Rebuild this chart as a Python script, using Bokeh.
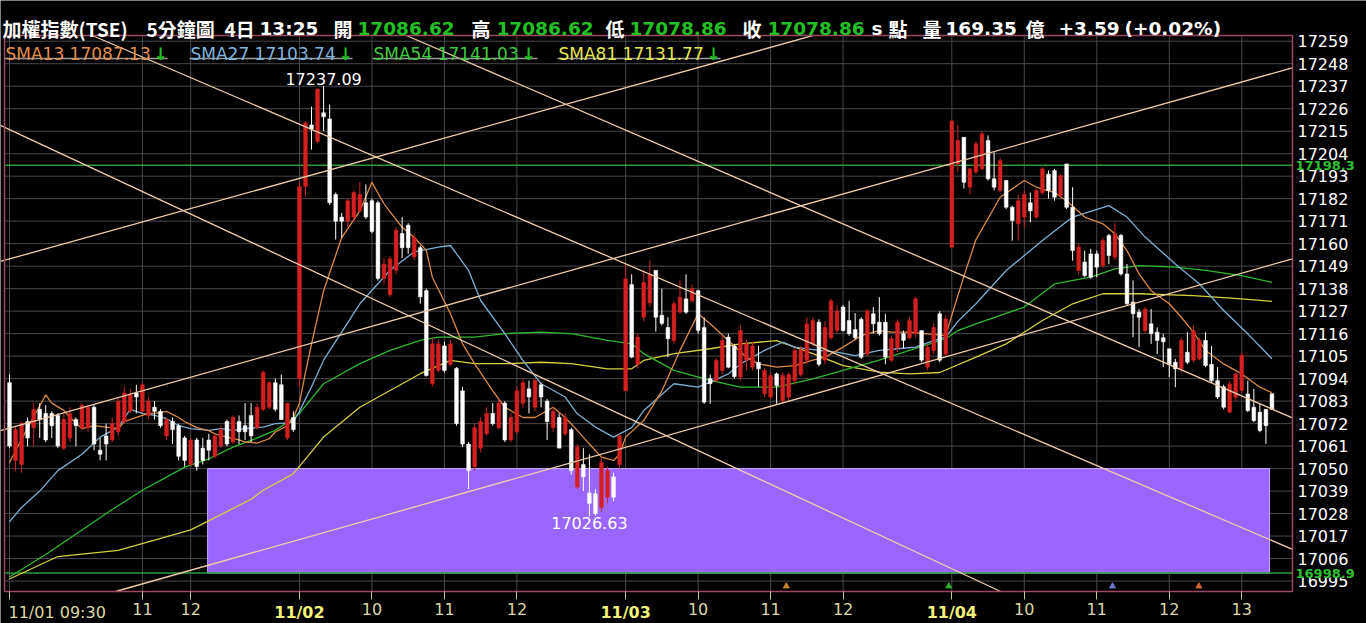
from bokeh.plotting import figure
from bokeh.models import ColumnDataSource, Range1d, FixedTicker, Label, LinearAxis
from bokeh.core.properties import value
from bokeh.embed import file_html
from bokeh.resources import INLINE

# ---------------- data (5-minute bars, 11/01 09:30 .. 11/04 13:25) ----------------
opens = [17092,17054,17052,17073,17070,17079,17077,17077,17076,17060,17065,17074,17070,17070,17080,17059,17066,17064,17068,17073,
         17078,17087,17078,17076,17080,17078,17066,17073,17071,17065,17052,17064,17060,17064,17056,17061,17073,17063,17073,17071,
         17076,17070,17079,17080,17092,17091,17065,17075,
         17094,17188,17218,17210,17224,17221,17184,17173,17171,17173,17176,17180,17181,17180,17143,17135,17147,17165,17169,17153.5,
         17158,17137,17091.5,17098,17110,17101,17099,17088,17062,17051,17060,17067,17077,17070,17082,17064,17068,17082,17089,17080,
         17091,17083,17070,17075,17067,17069,17041,17052,17038,17037.7,17031,17036,17046,17052,
         17088,17140,17101,17124,17131,17146.9,17125,17119,17112.6,17126.5,17133,17132,17137,17119,17094,17093,17098,17114.3,17110,17094.7,
         17103,17099.6,17102,17086.6,17085,17096.3,17083.3,17085,17093,17096,17103,17111,17121.6,17103,17114,17117.5,17129,17122.4,17118,17123,
         17106,17125.7,17121.6,17121.6,17103,17109,17116,17114,17116,17117.5,17099.6,17107.8,17125.7,17106,
         17158.3,17199,17212,17187.6,17195,17196.6,17210.4,17191.7,17186,17190.9,17177.8,17169.7,17173,17180,17173,17185,17194,17195.8,17183.5,17199,
         17177.8,17146.9,17151,17155,17155,17149.3,17164,17153.4,17164,17145.2,17131.4,17126.5,17117.5,17120.8,17116.7,17114,17108.6,17102,17098.8,17106.9,
         17103,17103.7,17112.7,17101,17093,17090,17077.6,17084.9,17088.2,17086.5,17080,17077.6,17079,17086.62]
highs = [17096,17071,17073,17075,17082,17082,17081,17078,17077,17077,17080,17075,17082,17081,17081,17065,17072,17075,17085,17090,
         17089,17091,17092,17085,17083,17079,17075,17075,17072,17066,17065,17065,17065,17067,17067,17071,17074,17076,17076,17082,
         17082,17082,17098,17093,17094,17096,17082,17078,
         17190,17220,17227,17236,17237.09,17228,17185,17175,17182,17186,17190,17189,17182,17181,17153,17154,17168,17173,17170,17165,
         17159,17138,17114,17113,17112,17113,17099.6,17090,17063,17072,17075,17080,17082,17084,17083,17077,17090,17094,17093,17094,
         17092,17084,17080,17077,17077,17070,17062,17060,17057,17040,17055,17051,17048,17067,
         17150,17145,17116,17147,17151.8,17147,17138,17124,17132,17142,17145,17140,17137.5,17124,17096,17104,17115,17116,17111,17120,
         17113,17112,17110,17099,17097,17097,17097,17097,17109,17110,17124,17124,17123,17122,17133,17130,17130,17132,17126,17124,
         17128,17129,17133.8,17125.7,17115,17123,17117.5,17124,17134,17117.5,17111,17121,17127,17125,
         17220.5,17218,17212,17197,17210,17215,17212.9,17204.7,17202,17191,17178.6,17184,17186,17185,17187,17197.4,17195.8,17196.6,17194,17199,
         17187.6,17160,17156.6,17157.5,17156.6,17163,17164.8,17170,17164.8,17150,17142,17128,17129,17128,17119,17116,17108.6,17103.7,17114,17116.7,
         17120,17114,17116.7,17110,17099.6,17091,17093,17097,17106.9,17093,17089,17081.7,17079,17086.62]
lows = [17060,17049,17048,17061,17061,17065,17063,17065,17060,17059,17063,17061,17069,17068,17059,17054,17054,17063,17066,17072,
        17077,17077,17077,17074,17074,17070,17064,17062,17054,17051,17051,17049,17052,17054,17055,17060,17061,17062,17062,17064,
        17063,17069,17078,17079,17078,17074,17064,17068,
        17090,17183,17206,17209,17215,17179,17162,17163,17168,17171,17175,17172,17165,17142,17140,17134,17145,17153,17155,17152,
        17130.6,17095,17090,17097,17097,17100,17071,17060.5,17040,17049,17058,17066,17071,17069,17063,17063,17067,17080,17077,17078,
        17080,17064,17068,17060,17066,17047,17040,17039,17026.63,17027,17029,17033,17034,17050,
        17088,17104,17099,17122,17129,17117,17120,17104.5,17111,17125.7,17125.7,17131,17116,17081.7,17081.7,17092,17096,17099,17094,17093,
        17098,17098,17090,17085,17084,17081.7,17082,17083,17091,17095,17101,17110,17100,17101,17113,17116,17117,17115,17113,17103.6,
        17105,17116,17115,17101,17102,17107,17109,17113,17114,17102,17098,17106,17102,17105,
        17158,17195,17187,17184,17194,17196,17190.9,17186,17185,17177,17161.5,17161.5,17168,17170.5,17172,17184,17182,17181,17182,17177,
        17151.7,17145,17143.6,17142.8,17143.6,17148,17150,17152,17144.4,17129.8,17114.3,17109.4,17116,17111,17106,17099.6,17094.7,17089.8,17097,17101,
        17102,17103,17099.6,17092,17084,17079,17077,17083,17087,17077.6,17072.7,17067.8,17062.1,17078.86]
closes = [17061,17069,17072,17065,17079,17074,17064,17071,17061,17074,17077,17071,17081,17080,17062,17057,17062,17072,17083,17087,
          17086,17085,17091,17083,17078,17071,17074,17069,17056,17054,17064,17051,17054,17059,17066,17069,17062,17075,17068,17068,
          17066,17080,17097,17092,17079,17074,17082,17069,
          17188,17219,17216,17235.5,17222,17180,17171,17171,17181,17185,17184,17173,17166,17143,17150,17152.6,17166.5,17158,17158,17163,
          17134,17095.5,17111,17111,17098,17111,17072,17062,17049,17070,17073,17077,17072,17082,17064,17075,17088,17092,17085,17093,
          17085,17073,17078,17060,17075,17049,17060.5,17046,17033,17028,17053,17049,17036,17066,
          17142.8,17104.5,17114.3,17141,17145,17124,17121,17113.5,17130.6,17133.8,17126.5,17138,17117.6,17082.5,17091.5,17102.9,17112.7,17099.6,17095,17117.5,
          17111,17110,17098.8,17098,17095.5,17090.6,17095.5,17096,17107.8,17108,17120.8,17122.4,17101,17119,17132,17127,17117.5,17116,17114,17104.5,
          17127,17120.8,17116,17104.5,17113.5,17121.6,17112.7,17122.4,17133,17103,17109.4,17119,17103,17123.2,
          17220,17210.5,17190,17196.6,17208.8,17213.7,17191.7,17187.6,17200.7,17177.8,17171.3,17181,17184,17176,17186,17196.6,17186,17182.7,17193.3,17177.8,
          17156.6,17158.3,17144.4,17143.6,17148.5,17161.5,17154.2,17164.8,17145.2,17130.6,17125.7,17124,17128,17116,17112.7,17112,17101,17098.8,17112.7,17102,
          17117.5,17112.7,17100.4,17093,17085,17080,17091.4,17096.3,17105.3,17078.4,17073.5,17068.6,17071,17078.86]

# moving averages at bar indices
sma13_x = [0,3,6,7,9,10,12,14,16,18,19,21,23,24,26,28,29,31,33,34,36,38,39,41,43,44,46,47,48,49,50,51,52,55,58,60,62,65,67,69,70,73,75,77,80,82,85,87,90,92,94,96,98,100,101,102,105,108,111,114,116,119,122,124,127,130,133,135,138,141,144,146,149,152,155,156,158,160,164,168,170,173,175,178,181,183,185,187,189,192,194,196,198,201,204,207,209]
sma13_y = [17053,17070,17086,17082,17078.5,17075,17069.5,17071,17070.3,17069.5,17073,17075,17077,17077,17078,17075,17073,17070,17068.6,17067,17065.4,17064,17063,17062.5,17064.6,17067.9,17071,17075,17082,17097,17111,17124,17137,17163,17176,17190,17179.5,17168,17163,17156.7,17143.6,17125.7,17111,17101.3,17088,17080,17075,17075,17080,17075,17068.7,17062,17055.6,17054,17057,17065.4,17073.5,17088,17107.8,17125.7,17120.8,17112.6,17104.5,17101.2,17099.6,17100.4,17103,17104.5,17109.4,17115,17117.5,17116.7,17116.7,17115.9,17115,17125,17144,17162,17182.7,17190.9,17187.6,17185,17181,17173,17169.7,17164.8,17156.6,17145.2,17137,17130.6,17124,17116.7,17107.8,17101.2,17096.3,17089.8,17087.13]
sma27_x = [0,2,5,8,12,15,18,20,22,24,26,28,30,33,35,37,39,42,44,46,47,48,50,52,58,63,67,71,73,76,78,82,85,88,92,94,97,100,103,105,110,114,116,119,121,125,128,130,134,137,140,144,147,150,153,155,157,160,165,171,176,182,185,188,193,197,201,205,209]
sma27_y = [17024,17031,17039,17049,17057,17065.4,17070.3,17079,17077,17076,17074.4,17071,17069.5,17068.7,17069.5,17068.7,17069.5,17070.3,17072,17072.3,17073,17078,17090,17103,17130.6,17147,17156,17158.3,17159.1,17146.9,17132.2,17116,17102.9,17091.5,17085,17076.8,17070.3,17065.4,17070,17078.4,17091.5,17089.8,17092.3,17096.3,17101.2,17107.8,17111.8,17109.4,17107.8,17107,17105.3,17107.8,17108.6,17109.4,17112.6,17114.3,17122,17130.6,17146.9,17161.5,17173,17178.6,17173,17163.2,17150.1,17140.3,17127.3,17115.9,17103.74]
sma54_x = [0,6,12,17,22,26,29,33,37,40,44,46,48,52,58,63,68,71,77,82,88,93,99,103,105,110,116,121,127,133,138,144,149,155,157,160,168,173,179,183,187,193,198,204,209]
sma54_y = [16997,17008,17020,17030,17039.4,17045.8,17050.7,17054.8,17060.5,17063.8,17068.7,17072.7,17077,17091.5,17101.3,17107.8,17112.7,17114.3,17114.3,17116,17116.7,17116,17112.7,17111,17106.2,17098,17093.1,17089.8,17089.8,17093.9,17098,17103,17107.8,17113.5,17117.5,17120.8,17129,17140.3,17143.6,17147.7,17149.3,17148.5,17146.9,17144.4,17141.03]
sma81_x = [0,8,18,30,40,42,46,47,52,58,63,68,73,77,82,88,93,99,103,105,110,116,121,127,133,138,144,149,154,160,165,171,176,181,187,196,204,209]
sma81_y = [16996,17007,17010,17020,17035,17039.4,17045.8,17047.5,17065.4,17080,17088.2,17096.4,17102.9,17101.3,17101.3,17102,17101.3,17098.8,17098.8,17102.9,17106.2,17108.6,17111,17112.6,17106.2,17100.4,17097.2,17096.3,17097,17104.5,17111,17122.4,17130.6,17135.5,17135.5,17134.6,17133,17131.77]

# hand-drawn trend lines (bar index, price) -> (bar index, price)
trend_x0 = [13.7, -1.5, 17.55, -1.5, -1.5, 65.7]
trend_y0 = [17261.8, 17217.8, 16989.9, 17151.3, 17068.6, 17261.8]
trend_x1 = [212.4, 164.1, 212.4, 133.1, 212.4, 212.4]
trend_y1 = [17010.5, 16989.9, 17152.6, 17261.8, 17246.0, 17074.8]

# shaded zone and level lines
zone_left, zone_right, zone_bottom, zone_top = [32.8], [208.6], [16998.9], [17050.0]
level_lines = [17198.3, 16998.9]

# signal markers at the bottom
sig_x = [128.6, 155.5, 182.6, 196.9]
sig_y = [16992.5, 16992.5, 16992.5, 16992.5]
sig_c = ["#C8862E", "#2FB02F", "#6A78D0", "#D0642E"]

y_ticks = [16995 + 11 * k for k in range(25)]
x_ticks = [0, 22, 30, 48, 60, 72, 84, 102, 114, 126, 138, 156, 168, 180, 192, 204]
x_tick_text = ["", "11", "12", "", "10", "11", "12", "", "10", "11", "12", "", "10", "11", "12", "13"]
day_ticks = [0, 48, 102, 156]
day_text = ["11/01 09:30", "11/02", "11/03", "11/04"]

# ---------------- layout ----------------
W, H = 1366, 623
FL, FR, FT, FB = 4, 1292, 35, 591          # chart box in canvas pixels
X_LO, X_HI = -0.828, 212.4                 # bar index at box left / right
Y_HI, Y_LO = 17261.79, 16989.9             # price at box top / bottom


def dx(px):
    return X_LO + (px - FL) * (X_HI - X_LO) / (FR - FL)


def dy(py):
    return Y_HI - (py - FT) * (Y_HI - Y_LO) / (FB - FT)


p = figure(width=W, height=H, title=None,
           x_range=Range1d(dx(0), dx(W)), y_range=Range1d(dy(H), dy(0)),
           x_axis_location=None, y_axis_location=None,
           output_backend="svg", toolbar_location=None,
           min_border_left=0, min_border_right=0, min_border_top=0, min_border_bottom=0,
           background_fill_color="black", border_fill_color="black")
p.outline_line_color = None
p.xgrid.visible = False
p.ygrid.visible = False

GRID = "#484848"
# grid inside the chart box
p.segment(x0=[X_LO] * len(y_ticks), y0=y_ticks, x1=[X_HI] * len(y_ticks), y1=y_ticks, line_color=GRID, line_width=1)
p.segment(x0=x_ticks, y0=[Y_LO] * len(x_ticks), x1=x_ticks, y1=[Y_HI] * len(x_ticks), line_color=GRID, line_width=1)

# price axis on the right edge of the box
yax = LinearAxis(fixed_location=X_HI, ticker=FixedTicker(ticks=y_ticks))
yax.major_label_overrides = {t: str(t) for t in y_ticks}
yax.axis_line_color = None
yax.major_tick_line_color = None
yax.minor_tick_line_color = None
yax.major_tick_out = 0
yax.major_tick_in = 0
yax.major_label_standoff = 5
yax.major_label_text_color = "white"
yax.major_label_text_font = "DejaVu Sans"
yax.major_label_text_font_size = "16px"
p.add_layout(yax, "right")

# time axis on the bottom edge of the box
xax = LinearAxis(fixed_location=Y_LO, ticker=FixedTicker(ticks=x_ticks))
xax.major_label_overrides = {t: s for t, s in zip(x_ticks, x_tick_text)}
xax.axis_line_color = None
xax.minor_tick_line_color = None
xax.major_tick_line_color = "#C8C890"
xax.major_tick_out = 8
xax.major_tick_in = 0
xax.major_label_standoff = 3
xax.major_label_text_color = "#D8D8A0"
xax.major_label_text_font = "DejaVu Sans"
xax.major_label_text_font_size = "16px"
p.add_layout(xax, "below")

# shaded zone
p.quad(left=zone_left, right=zone_right, bottom=zone_bottom, top=zone_top,
       fill_color="#9966FF", line_color="#C8AAFF", line_width=1)

# level lines
p.segment(x0=[X_LO] * len(level_lines), y0=level_lines, x1=[X_HI] * len(level_lines), y1=level_lines,
          line_color="#2E9A3A", line_width=1.5)

# moving averages
p.line(sma81_x, sma81_y, line_color="#D6D040", line_width=1.3)
p.line(sma54_x, sma54_y, line_color="#2DB82D", line_width=1.3)
p.line(sma27_x, sma27_y, line_color="#7AAFD4", line_width=1.3)
p.line(sma13_x, sma13_y, line_color="#D98A45", line_width=1.3)

# candles (red = up, white = down)
idx = list(range(len(closes)))
colors = ["#D42020" if c >= o else "#FFFFFF" for o, c in zip(opens, closes)]
src = ColumnDataSource(dict(x=idx, h=highs, l=lows, col=colors,
                            top=[max(o, c) for o, c in zip(opens, closes)],
                            bot=[min(o, c) for o, c in zip(opens, closes)]))
p.segment(x0="x", y0="l", x1="x", y1="h", line_color="col", line_width=1, source=src)
p.vbar(x="x", width=0.62, top="top", bottom="bot", fill_color="col", line_color="col", line_width=0.5, source=src)

# trend lines
p.segment(x0=trend_x0, y0=trend_y0, x1=trend_x1, y1=trend_y1, line_color="#EFCDAA", line_width=1.3)

# signal markers
p.scatter(sig_x, sig_y, marker="triangle", size=6, fill_color=sig_c, line_color=sig_c)

# extreme labels
hi_i = max(idx, key=lambda i: highs[i])
lo_i = min(idx, key=lambda i: lows[i])
p.text(x=[hi_i], y=[highs[hi_i]], text=[f"{highs[hi_i]:.2f}"], text_align="center", text_baseline="bottom",
       y_offset=-1, text_color="white", text_font=value("DejaVu Sans"), text_font_size="16px")
p.text(x=[lo_i], y=[lows[lo_i]], text=[f"{lows[lo_i]:.2f}"], text_align="center", text_baseline="top",
       y_offset=1, text_color="white", text_font=value("DejaVu Sans"), text_font_size="16px")

# chart box border
p.quad(left=[X_LO], right=[X_HI], bottom=[Y_LO], top=[Y_HI], fill_color=None, line_color="#9B4A60", line_width=1.5)

# level labels on the price axis
for lv in level_lines:
    p.add_layout(Label(x=X_HI, y=lv, x_offset=3, text=f"{lv:.1f}", text_baseline="middle",
                       text_color="#2FC02F", text_font="DejaVu Sans", text_font_size="13px",
                       text_font_style="bold", background_fill_color="black"))

# day labels on the time axis
for t, s in zip(day_ticks, day_text):
    first = t == day_ticks[0]
    p.add_layout(Label(x=t, y=dy(602), text=s, text_baseline="top",
                       text_align="left" if first else "center", x_offset=-1 if first else 0,
                       text_color="#D8D8A0" if first else "#F2F27A",
                       text_font="DejaVu Sans", text_font_size="16px",
                       text_font_style="normal" if first else "bold"))

# header
GREEN = "#22C022"
header = [("加權指數(TSE)", 2, "cjk", "white"), ("5分鐘圖", 146, "cjk", "white"), ("4日", 224, "cjk", "white"),
          ("13:25", 259, "num", "white"), ("開", 333, "cjk", "white"), (f"{opens[-1]:.2f}", 357, "num", GREEN),
          ("高", 471, "cjk", "white"), (f"{highs[-1]:.2f}", 496, "num", GREEN), ("低", 605, "cjk", "white"),
          (f"{lows[-1]:.2f}", 629, "num", GREEN), ("收", 742, "cjk", "white"), (f"{closes[-1]:.2f}", 767, "num", GREEN),
          ("s", 871, "num", "white"), ("點", 888, "cjk", "white"), ("量", 922, "cjk", "white"),
          ("169.35", 945, "num", "white"), ("億", 1025, "cjk", "white"), ("+3.59", 1058, "num", "white"),
          ("(+0.02%)", 1124, "num", "white")]
for txt, px, kind, col in header:
    if kind == "cjk":
        p.add_layout(Label(x=dx(px), y=dy(28), text=txt, text_baseline="alphabetic", text_color=col,
                           text_font="Noto Sans CJK TC", text_font_size="19px", text_font_style="bold"))
    else:
        p.add_layout(Label(x=dx(px), y=dy(28), text=txt, text_baseline="alphabetic", text_color=col,
                           text_font="DejaVu Sans", text_font_size="18.5px", text_font_style="bold"))

# legend
legend = [("SMA13", sma13_y[-1], 5, 153, 167, "#E0904C"), ("SMA27", sma27_y[-1], 190, 338, 352, "#7DB5DD"),
          ("SMA54", sma54_y[-1], 373, 521, 537, "#3CCB3C"), ("SMA81", sma81_y[-1], 558, 706, 720, "#E6E650")]
for name, v, px, apx, upx, col in legend:
    p.add_layout(Label(x=dx(px), y=dy(53), text=f"{name} {v:.2f}", text_baseline="alphabetic", text_color=col,
                       text_font="DejaVu Sans", text_font_size="17px"))
    p.add_layout(Label(x=dx(apx), y=dy(53), text="↓", text_baseline="alphabetic", text_color=GREEN,
                       text_font="DejaVu Sans", text_font_size="17px", text_font_style="bold"))
    p.segment(x0=[dx(px - 1)], y0=[dy(58)], x1=[dx(upx)], y1=[dy(58)], line_color="#9A9A9A", line_width=1.5)

open("out.html", "w").write(file_html(p, INLINE))
